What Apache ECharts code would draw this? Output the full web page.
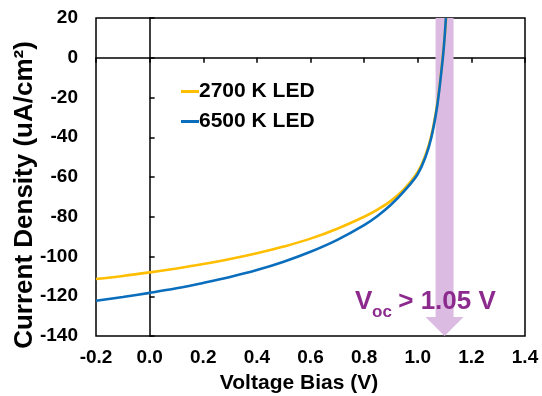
<!DOCTYPE html>
<html>
<head>
<meta charset="utf-8">
<script src="https://cdn.jsdelivr.net/npm/echarts@6/dist/echarts.min.js"></script>
<style>
  html, body { margin: 0; padding: 0; background: #fff; }
  #chart { width: 542px; height: 396px; }
</style>
</head>
<body>
<div id="chart"></div>
<script>
// J-V sweep under two LED colour temperatures
const voltage2700 = [-0.2, -0.1, 0.0, 0.1, 0.2, 0.3, 0.4, 0.5, 0.6, 0.7, 0.8, 0.85, 0.9, 0.95, 1.0, 1.03, 1.05, 1.07, 1.08, 1.09, 1.095, 1.1, 1.106];
const current2700 = [-111.3, -109.8, -108.0, -106.0, -103.8, -101.3, -98.4, -95.0, -91.0, -86.0, -80.0, -76.4, -72.0, -66.0, -57.5, -48.5, -39.5, -25.5, -15.5, -3.5, 3.0, 10.0, 20.0];

const voltage6500 = [-0.2, -0.1, 0.0, 0.1, 0.2, 0.3, 0.4, 0.5, 0.6, 0.7, 0.8, 0.85, 0.9, 0.95, 1.0, 1.03, 1.05, 1.07, 1.08, 1.09, 1.095, 1.1, 1.105];
const current6500 = [-122.3, -120.4, -118.3, -116.0, -113.3, -110.3, -106.8, -102.6, -97.6, -91.6, -84.2, -79.6, -74.0, -67.0, -58.5, -49.5, -40.5, -26.5, -16.5, -4.5, 2.0, 10.0, 20.0];

const xTicks = { min: -0.2, max: 1.4, step: 0.2 };
const yTicks = { min: -140, max: 20, step: 20 };

// Open-circuit voltage arrow (V, top, head start, tip)
const arrowV = 1.10;
const arrowTop = 20;
const arrowHeadStart = -130.5;
const arrowTip = -140;

const seriesNames = ['2700 K LED', '6500 K LED'];
const vocLabel = ['V', 'oc', ' > 1.05 V'];
const xTitle = 'Voltage Bias (V)';
const yTitle = 'Current Density (uA/cm²)';

const pair = (xs, ys) => xs.map((x, i) => [x, ys[i]]);

const FONT = '"Liberation Sans", Arial, sans-serif';
const PURPLE = '#8C2A8E';
const ARROW = '#DCBBE3';

const chart = echarts.init(document.getElementById('chart'), null, { renderer: 'canvas' });

chart.setOption({
  animation: false,
  backgroundColor: '#fff',
  textStyle: { fontFamily: FONT },
  grid: {
    left: 96, right: 17, top: 18, bottom: 60,
    show: true, borderColor: '#000', borderWidth: 1.5, backgroundColor: 'transparent'
  },
  legend: {
    orient: 'vertical',
    left: 176, top: 76,
    itemWidth: 18, itemHeight: 3, itemGap: 9,
    icon: 'rect',
    textStyle: { fontFamily: FONT, fontSize: 21, fontWeight: 'bold', color: '#000', padding: [0, 0, 0, -5] },
    data: seriesNames
  },
  xAxis: [
    {
      type: 'value', min: xTicks.min, max: xTicks.max, interval: xTicks.step,
      position: 'bottom',
      axisLine: { show: false, onZero: false },
      axisTick: { show: false },
      splitLine: { show: false },
      axisLabel: {
        margin: 12, fontSize: 19, fontWeight: 'bold', color: '#000', fontFamily: FONT,
        formatter: v => v.toFixed(1)
      }
    },
    {
      type: 'value', min: xTicks.min, max: xTicks.max, interval: xTicks.step,
      position: 'top',
      axisLine: { show: true, onZero: true, onZeroAxisIndex: 0, lineStyle: { color: '#000', width: 1.5 } },
      axisTick: { show: true, inside: true, length: 5, lineStyle: { color: '#000', width: 1.5 } },
      axisLabel: { show: false },
      splitLine: { show: false }
    }
  ],
  yAxis: [
    {
      type: 'value', min: yTicks.min, max: yTicks.max, interval: yTicks.step,
      position: 'left',
      axisLine: { show: false, onZero: false },
      axisTick: { show: false },
      splitLine: { show: false },
      axisLabel: { margin: 18, fontSize: 19, fontWeight: 'bold', color: '#000', fontFamily: FONT }
    },
    {
      type: 'value', min: yTicks.min, max: yTicks.max, interval: yTicks.step,
      position: 'right',
      axisLine: { show: true, onZero: true, onZeroAxisIndex: 0, lineStyle: { color: '#000', width: 1.5 } },
      axisTick: { show: true, inside: false, length: 5, lineStyle: { color: '#000', width: 1.5 } },
      axisLabel: { show: false },
      splitLine: { show: false }
    }
  ],
  series: [
    {
      type: 'custom',
      name: 'Voc arrow',
      xAxisIndex: 0, yAxisIndex: 0,
      z: 1,
      silent: true,
      data: [[arrowV, arrowTop, arrowHeadStart, arrowTip]],
      renderItem: (params, api) => {
        const x = api.coord([api.value(0), 0])[0];
        const yTop = api.coord([0, api.value(1)])[1];
        const yHead = api.coord([0, api.value(2)])[1];
        const yTip = api.coord([0, api.value(3)])[1];
        const shaft = 9, head = 19;
        return {
          type: 'polygon',
          shape: {
            points: [
              [x - shaft, yTop], [x + shaft, yTop], [x + shaft, yHead],
              [x + head, yHead], [x, yTip], [x - head, yHead], [x - shaft, yHead]
            ]
          },
          style: { fill: ARROW }
        };
      }
    },
    {
      name: seriesNames[0],
      type: 'line',
      xAxisIndex: 0, yAxisIndex: 0,
      data: pair(voltage2700, current2700),
      smooth: 0.4,
      showSymbol: false,
      z: 3,
      color: '#FFBE00',
      lineStyle: { width: 2.6, color: '#FFBE00' }
    },
    {
      name: seriesNames[1],
      type: 'line',
      xAxisIndex: 0, yAxisIndex: 0,
      data: pair(voltage6500, current6500),
      smooth: 0.4,
      showSymbol: false,
      z: 4,
      color: '#0A6EBD',
      lineStyle: { width: 2.6, color: '#0A6EBD' }
    }
  ],
  graphic: [
    {
      type: 'text', z: 10,
      x: 25, y: 195, rotation: Math.PI / 2,
      style: {
        text: yTitle, fontFamily: FONT, fontSize: 26, fontWeight: 'bold', fill: '#000',
        align: 'center', verticalAlign: 'middle'
      }
    },
    {
      type: 'text', z: 10,
      x: 299, y: 383,
      style: {
        text: xTitle, fontFamily: FONT, fontSize: 21, fontWeight: 'bold', fill: '#000',
        align: 'center', verticalAlign: 'middle'
      }
    },
    {
      type: 'text', z: 10,
      x: 355, y: 315,
      style: { text: vocLabel[0], fontFamily: FONT, fontSize: 26, fontWeight: 'bold', fill: PURPLE, align: 'left', verticalAlign: 'bottom' }
    },
    {
      type: 'text', z: 10,
      x: 372, y: 321,
      style: { text: vocLabel[1], fontFamily: FONT, fontSize: 17, fontWeight: 'bold', fill: PURPLE, align: 'left', verticalAlign: 'bottom' }
    },
    {
      type: 'text', z: 10,
      x: 391, y: 315,
      style: { text: vocLabel[2], fontFamily: FONT, fontSize: 26, fontWeight: 'bold', fill: PURPLE, align: 'left', verticalAlign: 'bottom' }
    }
  ]
});
</script>
</body>
</html>
